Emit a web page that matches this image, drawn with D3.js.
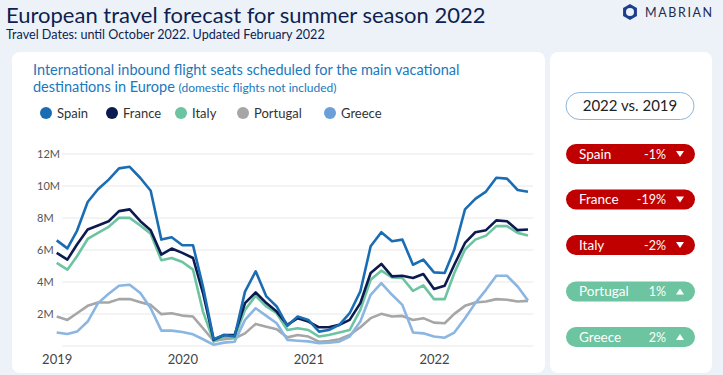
<!DOCTYPE html>
<html>
<head>
<meta charset="utf-8">
<script src="https://cdn.jsdelivr.net/npm/d3@7"></script>
<style>
  body { margin: 0; background: #edf2f9; }
  svg { display: block; font-family: Lato, "Open Sans", sans-serif; }
</style>
</head>
<body>
<div id="chart"></div>
<script>
// monthly flight seats (millions), Jan 2019 - Oct 2022
var countries = ["Spain", "France", "Italy", "Portugal", "Greece"];
var colors = ["#1b6db3", "#0c1a4f", "#6cc4a1", "#a6a6a6", "#8ab6e1"];
var legendColors = ["#1b6db3", "#0c1a4f", "#6cc4a1", "#a6a6a6", "#6a9fd8"];

var spain = [6.6, 6.1, 7.2, 9.0, 9.8, 10.4, 11.1, 11.2, 10.5, 9.7, 6.65, 6.8,
  6.3, 6.3, 3.7, 0.42, 0.69, 0.6, 3.4, 4.67, 3.1, 2.47, 1.26, 1.84,
  1.63, 0.9, 1.0, 1.32, 2.05, 3.41, 6.23, 7.11, 6.55, 6.65, 5.08, 5.4,
  4.6, 4.56, 6.03, 8.54, 9.2, 9.65, 10.52, 10.46, 9.75, 9.64];
var france = [5.82, 5.4, 6.34, 7.28, 7.53, 7.8, 8.43, 8.54, 7.8, 7.24, 5.71, 6.09,
  5.82, 5.5, 3.31, 0.38, 0.69, 0.69, 2.68, 3.35, 2.68, 2.15, 1.32, 1.74,
  1.53, 1.17, 1.17, 1.32, 1.63, 2.68, 4.56, 5.13, 4.35, 4.39, 4.25, 4.5,
  3.56, 3.77, 5.08, 6.44, 7.11, 7.24, 7.85, 7.8, 7.24, 7.28];
var italy = [5.19, 4.77, 5.61, 6.69, 7.07, 7.45, 8.01, 8.01, 7.53, 7.01, 5.36, 5.5,
  5.25, 4.77, 2.15, 0.27, 0.59, 0.54, 2.26, 3.14, 2.47, 2.05, 1.0, 1.11,
  1.0, 0.59, 0.69, 0.84, 1.0, 2.26, 4.14, 4.71, 4.29, 4.25, 3.45, 3.79,
  2.93, 2.93, 4.56, 6.03, 6.65, 6.9, 7.49, 7.49, 7.07, 6.9];
var portugal = [1.84, 1.63, 2.05, 2.51, 2.72, 2.72, 2.93, 2.93, 2.74, 2.57, 1.99, 2.05,
  1.9, 1.84, 1.11, 0.31, 0.42, 0.48, 0.79, 1.38, 1.21, 1.05, 0.54, 0.69,
  0.59, 0.27, 0.31, 0.42, 0.69, 1.17, 1.74, 2.01, 1.84, 1.88, 1.63, 1.74,
  1.46, 1.42, 2.01, 2.51, 2.72, 2.78, 2.93, 2.89, 2.78, 2.82];
var greece = [0.84, 0.75, 0.9, 1.53, 2.68, 3.26, 3.77, 3.83, 3.31, 2.36, 0.96, 0.96,
  0.88, 0.73, 0.42, 0.08, 0.21, 0.27, 1.63, 2.36, 1.88, 1.42, 0.38, 0.33,
  0.29, 0.17, 0.21, 0.27, 0.59, 1.53, 3.2, 3.93, 3.2, 2.57, 0.84, 0.79,
  0.59, 0.52, 0.84, 1.74, 2.68, 3.51, 4.39, 4.39, 3.72, 2.85];
var series = [spain, france, italy, portugal, greece];

var yTicks = [2, 4, 6, 8, 10, 12];
var changes = [-1, -19, -2, 1, 2];

var W = 723, H = 375;
var svg = d3.select("#chart").append("svg")
  .attr("width", W).attr("height", H);

// header
svg.append("text").attr("x", 6).attr("y", 23)
  .attr("fill", "#0e1f50").style("font-size", "22px")
  .text("European travel forecast for summer season 2022");
svg.append("text").attr("x", 6).attr("y", 38.5)
  .attr("fill", "#0e1f50").style("font-size", "12.6px")
  .text("Travel Dates: until October 2022. Updated February 2022");

// logo
var logo = svg.append("g").attr("transform", "translate(630,12)");
var hex = d3.range(6).map(function(i){
  var a = Math.PI / 3 * i + Math.PI / 6;
  return [8 * Math.cos(a), 8 * Math.sin(a)];
});
logo.append("path").attr("d", "M" + hex.join("L") + "Z").attr("fill", "#1c3f8c");
logo.append("circle").attr("r", 4).attr("fill", "#edf2f9");
svg.append("text").attr("x", 645).attr("y", 17)
  .attr("fill", "#1e2a50").style("font-size", "12.5px").style("letter-spacing", "1.6px")
  .text("MABRIAN");

// panels
svg.append("rect").attr("x", 12).attr("y", 52).attr("width", 533).attr("height", 321)
  .attr("rx", 8).attr("fill", "#fff");
svg.append("rect").attr("x", 550).attr("y", 52).attr("width", 162).attr("height", 321)
  .attr("rx", 8).attr("fill", "#fff");

// chart title
svg.append("text").attr("x", 33).attr("y", 75)
  .attr("fill", "#1a78bd").style("font-size", "14.5px")
  .text("International inbound flight seats scheduled for the main vacational");
var t2 = svg.append("text").attr("x", 33).attr("y", 92)
  .attr("fill", "#1a78bd").style("font-size", "14.5px");
t2.append("tspan").text("destinations in Europe ");
t2.append("tspan").style("font-size", "12px").text("(domestic flights not included)");

// legend
var legendX = [46, 112, 181, 243, 330];
var legend = svg.selectAll(".legend").data(countries).enter().append("g")
  .attr("transform", function(d, i){ return "translate(" + legendX[i] + ",113)"; });
legend.append("circle").attr("r", 6).attr("fill", function(d, i){ return legendColors[i]; });
legend.append("text").attr("x", 11).attr("y", 4.5)
  .attr("fill", "#333").style("font-size", "13px")
  .text(function(d){ return d; });

// scales
var months = d3.range(spain.length).map(function(i){ return new Date(2019, i, 1); });
var x = d3.scaleTime().domain([new Date(2019, 0, 1), new Date(2022, 0, 1)]).range([56.7, 434]);
var y = d3.scaleLinear().domain([0, 12]).range([346, 154]);

// grid
svg.selectAll(".grid").data([0].concat(yTicks)).enter().append("line")
  .attr("x1", 62).attr("x2", 533)
  .attr("y1", function(d){ return y(d); }).attr("y2", function(d){ return y(d); })
  .attr("stroke", "#e8e8e8").attr("stroke-width", 1);

svg.selectAll(".ylab").data(yTicks).enter().append("text")
  .attr("x", 37).attr("y", function(d){ return y(d) + 4; })
  .attr("fill", "#555").style("font-size", "11px")
  .text(function(d){ return d + "M"; });

var xAxis = svg.append("g").attr("transform", "translate(0,346)")
  .call(d3.axisBottom(x).ticks(d3.timeYear.every(1)).tickFormat(d3.timeFormat("%Y")).tickSize(0).tickPadding(9));
xAxis.select(".domain").remove();
xAxis.selectAll("text").attr("fill", "#444").style("font-size", "13px")
  .style("font-family", "Lato, sans-serif");

// lines
var line = d3.line()
  .x(function(d, i){ return x(months[i]); })
  .y(function(d){ return y(d); });
var order = [3, 4, 2, 1, 0];
order.forEach(function(k){
  svg.append("path").datum(series[k])
    .attr("d", line).attr("fill", "none")
    .attr("stroke", colors[k]).attr("stroke-width", 2.6)
    .attr("stroke-linejoin", "round");
});

// right panel
svg.append("rect").attr("x", 566).attr("y", 92.5).attr("width", 128).attr("height", 27)
  .attr("rx", 13.5).attr("fill", "#fff").attr("stroke", "#8db5da").attr("stroke-width", 1);
svg.append("text").attr("x", 630).attr("y", 111).attr("text-anchor", "middle")
  .attr("fill", "#222").style("font-size", "15px").text("2022 vs. 2019");

var badgeY = [144, 189.5, 235, 281.5, 327];
var badges = svg.selectAll(".badge").data(countries).enter().append("g")
  .attr("transform", function(d, i){ return "translate(566," + badgeY[i] + ")"; });
badges.append("rect").attr("width", 129).attr("height", 20).attr("rx", 10)
  .attr("fill", function(d, i){ return changes[i] < 0 ? "#c00000" : "#6cc4a1"; });
badges.append("text").attr("x", 13).attr("y", 14.5).attr("fill", "#fff")
  .style("font-size", "13.5px").text(function(d){ return d; });
badges.append("text").attr("x", 100).attr("y", 14.5).attr("text-anchor", "end")
  .attr("fill", "#fff").style("font-size", "12.5px")
  .text(function(d, i){ return changes[i] + "%"; });
badges.append("path")
  .attr("d", function(d, i){
    return changes[i] < 0 ? "M110,7L118,7L114,13Z" : "M110,13L118,13L114,7Z";
  })
  .attr("fill", "#fff");
</script>
</body>
</html>
